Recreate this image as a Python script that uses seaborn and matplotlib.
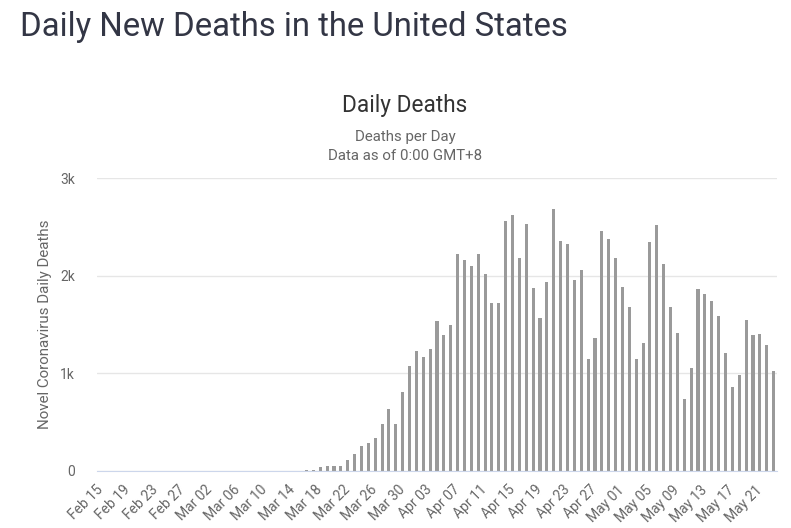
import matplotlib
matplotlib.use("Agg")
import matplotlib.pyplot as plt
import numpy as np
import pandas as pd
import seaborn as sns

# daily deaths, Feb 15 .. May 23
dates = pd.date_range("2020-02-15", "2020-05-23")
deaths = [
    0, 0, 0, 0, 0, 0, 0, 0, 0, 0,
    0, 0, 0, 0, 0, 0, 0, 0, 0, 0,
    0, 0, 0, 0, 0, 0, 0, 0, 0, 0,
    10, 10, 38, 51, 51, 51, 116, 171, 260, 284,
    339, 483, 637, 483, 808, 1079, 1233, 1168, 1250, 1534,
    1390, 1497, 2219, 2158, 2103, 2219, 2014, 1716, 1716, 2558,
    2623, 2182, 2534, 1870, 1562, 1935, 2678, 2356, 2329, 1952,
    2055, 1144, 1363, 2455, 2380, 2185, 1887, 1678, 1144, 1315,
    2342, 2521, 2116, 1678, 1408, 740, 1055, 1860, 1808, 1743,
    1589, 1212, 860, 986, 1548, 1390, 1404, 1288, 1027,
]
day_labels = list(dates.strftime("%b %d"))
y_ticks = [0, 1000, 2000, 3000]
y_tick_labels = ["0", "1k", "2k", "3k"]

df = pd.DataFrame({"day": day_labels, "deaths": deaths})

sns.set_style("white")
plt.rcParams["font.family"] = ["Roboto", "DejaVu Sans"]

W, H = 791, 528
fig = plt.figure(figsize=(W / 100, H / 100), dpi=100)
ax = fig.add_axes([97 / W, 1 - 471 / H, 680 / W, (471 - 178) / H])

sns.barplot(data=df, x="day", y="deaths", color="#9a9a9a", saturation=1,
            width=0.45, linewidth=0, ax=ax)

ax.set_xlim(-0.5, len(deaths) - 0.5)
ax.set_ylim(0, 3000)
ax.set_yticks(y_ticks)
ax.set_yticklabels(y_tick_labels)
ax.yaxis.grid(True, color="#e6e6e6", linewidth=1)
ax.set_axisbelow(True)

tick_pos = np.arange(0, len(deaths), 4)
ax.set_xticks(tick_pos)
ax.set_xticklabels([day_labels[i] for i in tick_pos], rotation=45,
                   ha="right", va="center", rotation_mode="anchor")

for s in ["top", "right", "left"]:
    ax.spines[s].set_visible(False)
ax.spines["bottom"].set_color("#ccd6eb")
ax.tick_params(axis="x", length=0, pad=12, labelsize=10, labelcolor="#666666")
ax.tick_params(axis="y", length=0, pad=16, labelsize=10, labelcolor="#666666")

ax.set_xlabel("")
ax.set_ylabel("")
fig.text(45 / W, 1 - 324 / H, "Novel Coronavirus Daily Deaths", rotation=90,
         ha="center", va="center", fontsize=10.9, color="#666666")

fig.text(20 / W, 1 - 27 / H, "Daily New Deaths in the United States",
         ha="left", va="center", fontsize=23.7, color="#333645")
fig.text(405 / W, 1 - 106 / H, "Daily Deaths", ha="center", va="center",
         fontsize=16.3, color="#333333")
fig.text(405 / W, 1 - 137 / H, "Deaths per Day", ha="center", va="center",
         fontsize=10.8, color="#666666")
fig.text(405 / W, 1 - 156 / H, "Data as of 0:00 GMT+8", ha="center",
         va="center", fontsize=10.8, color="#666666")

fig.savefig("out.png", dpi=100)
